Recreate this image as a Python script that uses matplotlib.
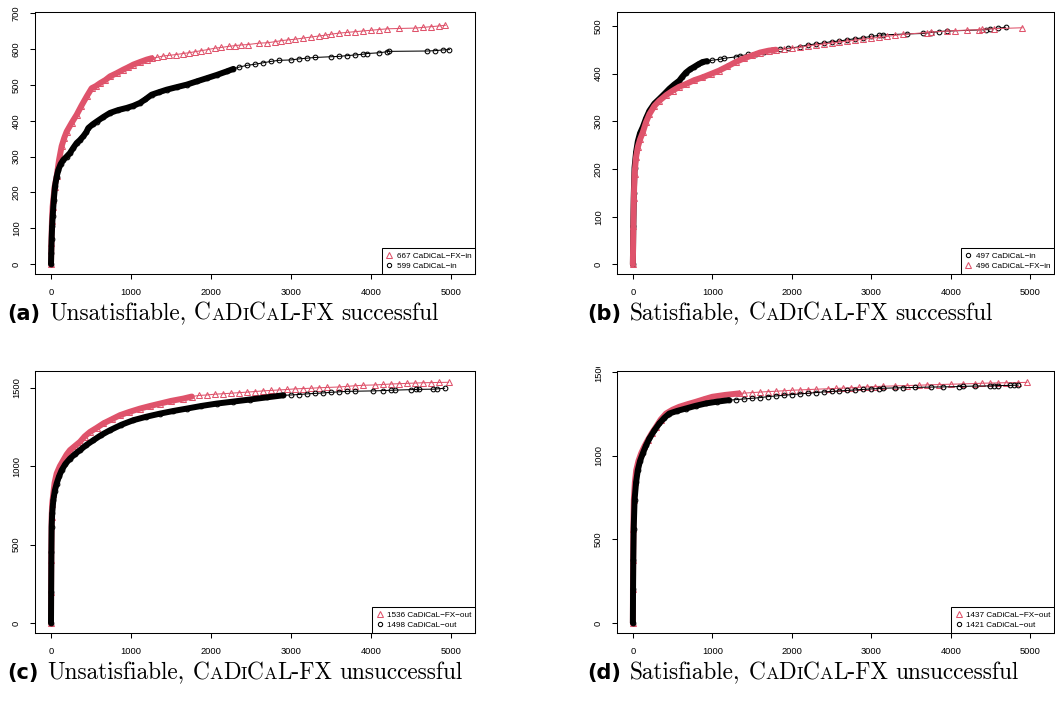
import numpy as np
import matplotlib.pyplot as plt
from matplotlib.lines import Line2D
from matplotlib.patches import Rectangle

plt.rcParams['font.family'] = ['Liberation Sans', 'DejaVu Sans']

RED = '#DF536B'

# (a) unsat, FX successful  -- time (s) vs. number of solved instances
a_fx_t = [0, 5, 12, 20, 29, 45, 71, 100, 133, 165, 196, 260, 321, 380, 446, 508, 560, 612, 680, 737,
          820, 904, 960, 1029, 1110, 1196, 1260, 1320, 1400, 1480, 1560, 1650, 1720, 1800, 1880, 1960,
          2050, 2130, 2220, 2300, 2380, 2460, 2600, 2700, 2800, 2880, 2960, 3050, 3150, 3250, 3350,
          3420, 3500, 3600, 3700, 3800, 3900, 4000, 4100, 4200, 4350, 4550, 4650, 4750, 4850, 4930]
a_fx_n = [0, 60, 120, 160, 180, 215, 245, 290, 329, 352, 370, 395, 417, 442, 468, 491, 497, 505, 514, 524,
          533, 543, 549, 557, 564, 571, 575, 577, 581, 583, 585, 588, 590, 593, 596, 599,
          603, 605, 608, 610, 612, 613, 617, 618, 621, 624, 626, 628, 631, 634, 637,
          639, 642, 645, 647, 649, 651, 653, 655, 657, 658, 659, 661, 663, 665, 667]
a_base_t = [0, 3, 8, 14, 21, 35, 50, 70, 92, 120, 154, 195, 237, 280, 321, 360, 404, 440, 467, 520,
            571, 650, 737, 840, 946, 1030, 1112, 1180, 1258, 1350, 1446, 1570, 1696, 1820, 1946, 2070,
            2196, 2280, 2350, 2450, 2550, 2650, 2750, 2850, 3000, 3100, 3200, 3300, 3500, 3600, 3700,
            3800, 3900, 3950, 4100, 4200, 4220, 4700, 4800, 4900, 4980]
a_base_n = [0, 30, 70, 105, 133, 180, 217, 243, 263, 279, 291, 300, 310, 325, 338, 346, 357, 368, 380, 390,
            398, 410, 422, 430, 436, 442, 450, 460, 473, 480, 487, 494, 501, 510, 519, 528,
            538, 545, 550, 555, 558, 562, 566, 569, 570, 573, 575, 577, 579, 580, 582,
            584, 586, 588, 590, 593, 594, 595, 596, 598, 599]

# (b) sat, FX successful
b_base_t = [0, 5, 12, 21, 40, 62, 90, 125, 165, 208, 270, 333, 400, 458, 520, 583, 620, 667, 720, 771,
            820, 875, 930, 1000, 1100, 1150, 1300, 1350, 1450, 1550, 1650, 1750, 1850, 1950, 2100,
            2200, 2300, 2400, 2500, 2600, 2700, 2800, 2900, 3000, 3100, 3150, 3450, 3650, 3750,
            3850, 3950, 4450, 4500, 4600, 4690]
b_base_n = [0, 80, 150, 203, 235, 258, 275, 288, 306, 322, 337, 347, 358, 368, 377, 385, 393, 402, 409, 414,
            419, 424, 426, 428, 430, 432, 435, 437, 440, 442, 446, 450, 451, 453, 456,
            460, 462, 464, 467, 468, 471, 473, 475, 478, 480, 481, 483, 484, 486,
            488, 489, 492, 494, 495, 497]
b_fx_t = [0, 5, 12, 21, 40, 62, 90, 125, 165, 208, 270, 333, 420, 500, 580, 667, 770, 875, 980, 1083,
          1190, 1292, 1400, 1500, 1600, 1708, 1800, 1900, 2000, 2100, 2200, 2300, 2400, 2500, 2600,
          2700, 2800, 2900, 3000, 3100, 3200, 3300, 3400, 3700, 3750, 3950, 4050, 4200, 4350, 4400,
          4550, 4900]
b_fx_n = [0, 80, 140, 190, 225, 246, 262, 277, 298, 315, 332, 343, 355, 364, 372, 378, 386, 392, 399, 406,
          415, 424, 432, 438, 444, 448, 450, 451, 453, 455, 458, 460, 462, 464, 466,
          468, 470, 472, 474, 476, 478, 480, 482, 486, 487, 489, 490, 491, 492, 493,
          494, 496]

# (c) unsat, FX unsuccessful
c_fx_t = [0, 1, 3, 8, 15, 29, 45, 71, 110, 154, 195, 237, 300, 362, 420, 487, 570, 654, 760, 862,
          980, 1112, 1240, 1362, 1500, 1654, 1760, 1850, 1950, 2050, 2150, 2250, 2350, 2450, 2550,
          2650, 2750, 2850, 2950, 3050, 3150, 3250, 3350, 3450, 3600, 3700, 3800, 3900, 4050, 4150,
          4250, 4350, 4450, 4550, 4650, 4750, 4850, 4970]
c_fx_n = [0, 200, 400, 678, 760, 826, 895, 954, 1000, 1039, 1075, 1103, 1130, 1156, 1190, 1219, 1245, 1273, 1300, 1326,
          1347, 1368, 1385, 1400, 1417, 1432, 1445, 1452, 1455, 1460, 1463, 1466, 1470, 1473, 1477,
          1481, 1484, 1487, 1490, 1494, 1496, 1498, 1501, 1503, 1506, 1510, 1514, 1517, 1519, 1522,
          1525, 1527, 1529, 1531, 1533, 1534, 1535, 1536]
c_base_t = [0, 2, 5, 8, 15, 29, 48, 71, 100, 133, 180, 237, 300, 362, 440, 529, 630, 737, 880, 1029,
            1190, 1362, 1530, 1696, 1880, 2071, 2280, 2487, 2700, 2904, 3000, 3100, 3200, 3300, 3400,
            3500, 3600, 3700, 3800, 4030, 4150, 4250, 4300, 4500, 4560, 4600, 4780, 4830, 4920]
c_base_n = [0, 200, 450, 614, 700, 784, 845, 890, 935, 975, 1015, 1049, 1078, 1103, 1135, 1166, 1200, 1230, 1265, 1294,
            1316, 1336, 1353, 1368, 1385, 1400, 1413, 1426, 1440, 1453, 1455, 1458, 1462, 1465, 1468,
            1472, 1475, 1478, 1479, 1481, 1483, 1485, 1486, 1489, 1490, 1491, 1492, 1494, 1498]

# (d) sat, FX unsuccessful
d_fx_t = [0, 1, 3, 6, 12, 25, 42, 70, 104, 145, 187, 240, 292, 350, 417, 500, 583, 690, 792, 900,
          1000, 1160, 1333, 1400, 1500, 1600, 1700, 1800, 1900, 2000, 2100, 2200, 2300, 2450, 2550,
          2650, 2750, 2850, 2950, 3050, 3150, 3300, 3450, 3600, 3700, 3850, 4000, 4150, 4300, 4400,
          4500, 4600, 4700, 4850, 4960]
d_fx_n = [0, 200, 376, 560, 734, 840, 913, 968, 1013, 1055, 1092, 1135, 1172, 1215, 1251, 1274, 1291, 1307, 1321, 1337,
          1351, 1362, 1371, 1373, 1376, 1379, 1382, 1384, 1387, 1390, 1392, 1394, 1396, 1399, 1401,
          1403, 1405, 1408, 1410, 1412, 1414, 1416, 1418, 1420, 1422, 1424, 1426, 1428, 1430, 1432,
          1433, 1434, 1435, 1436, 1437]
d_base_t = [0, 2, 5, 10, 21, 40, 62, 90, 125, 165, 208, 270, 333, 395, 458, 560, 667, 790, 917, 1060,
            1208, 1300, 1400, 1500, 1600, 1700, 1800, 1900, 2000, 2100, 2200, 2300, 2400, 2500, 2600,
            2700, 2800, 2900, 3000, 3100, 3150, 3300, 3400, 3550, 3750, 3900, 4100, 4150, 4300, 4500,
            4550, 4600, 4750, 4800, 4850]
d_base_n = [0, 200, 376, 560, 734, 840, 913, 968, 1013, 1060, 1102, 1150, 1192, 1225, 1251, 1267, 1281, 1297, 1311, 1322,
            1331, 1334, 1338, 1342, 1346, 1352, 1356, 1360, 1364, 1368, 1372, 1376, 1380, 1383, 1386,
            1389, 1392, 1395, 1398, 1400, 1402, 1404, 1405, 1407, 1409, 1410, 1412, 1413, 1415, 1416,
            1417, 1418, 1419, 1420, 1421]

W, H = 1055, 704
fig = plt.figure(figsize=(W / 100, H / 100), dpi=100)


def series(t, n, label, red, band_end):
    return dict(t=np.array(t), n=np.array(n), label=label, red=red, band_end=band_end)


# series listed in legend order (= plotting order)
panels = [
    dict(box=(35, 12, 440, 262), ylim=(-28, 704), yticks=range(0, 701, 100),
         series=[series(a_fx_t, a_fx_n, '667 CaDiCaL\u2212FX\u2212in', True, 1300),
                 series(a_base_t, a_base_n, '599 CaDiCaL\u2212in', False, 2300)]),
    dict(box=(617, 12, 437, 262), ylim=(-20, 529), yticks=range(0, 501, 100),
         series=[series(b_base_t, b_base_n, '497 CaDiCaL\u2212in', False, 950),
                 series(b_fx_t, b_fx_n, '496 CaDiCaL\u2212FX\u2212in', True, 1800)]),
    dict(box=(35, 371, 440, 262), ylim=(-64, 1608), yticks=range(0, 1501, 500),
         series=[series(c_fx_t, c_fx_n, '1536 CaDiCaL\u2212FX\u2212out', True, 1800),
                 series(c_base_t, c_base_n, '1498 CaDiCaL\u2212out', False, 2950)]),
    dict(box=(617, 371, 437, 262), ylim=(-60, 1505), yticks=range(0, 1501, 500),
         series=[series(d_fx_t, d_fx_n, '1437 CaDiCaL\u2212FX\u2212out', True, 1350),
                 series(d_base_t, d_base_n, '1421 CaDiCaL\u2212out', False, 1250)]),
]

for p in panels:
    x0, y0, w, h = p['box']
    ax = fig.add_axes([x0 / W, 1 - (y0 + h) / H, w / W, h / H])
    handles = []
    for s in p['series']:
        col = RED if s['red'] else 'black'
        mk, ms = ('^', 4.3) if s['red'] else ('o', 3.4)
        dense = s['t'] <= s['band_end']
        # the early part is a solid band of overlapping markers
        ax.plot(s['t'][dense], s['n'][dense], color=col, lw=4.3,
                solid_capstyle='round', solid_joinstyle='round')
        ax.plot(s['t'], s['n'], color=col, lw=0.75, marker=mk, ms=ms,
                mfc='none', mec=col, mew=0.75)
        handles.append(Line2D([], [], ls='none', marker=mk, ms=ms - 0.3,
                              mfc='none', mec=col, mew=0.75))
    ax.set_xlim(-200, 5300)
    ax.set_ylim(*p['ylim'])
    ax.set_xticks(range(0, 5001, 1000))
    ax.set_yticks(list(p['yticks']))
    for sp in ax.spines.values():
        sp.set_linewidth(0.75)
    ax.tick_params(direction='out', length=3.6, width=0.75, labelsize=6.7, pad=6.5)
    ax.tick_params(axis='y', labelrotation=90)
    for lab in ax.get_yticklabels():
        lab.set_va('center')
    leg = ax.legend(handles, [s['label'] for s in p['series']], loc='lower right',
                    borderaxespad=0, fontsize=5.9, fancybox=False, framealpha=1,
                    edgecolor='black', handlelength=1.0, handletextpad=0.4,
                    borderpad=0.45, labelspacing=0.35)
    leg.get_frame().set_linewidth(0.75)

# the subfigure (d) is trimmed at the top, cutting its "1500" label
fig.patches.append(Rectangle((575 / W, 1 - 367 / H), 40 / W, 15 / H, transform=fig.transFigure,
                             facecolor='white', edgecolor='none', zorder=10))

# captions with fake small caps for CaDiCaL
renderer = fig.canvas.get_renderer()
big, small = 16.8, 13.0
captions = [
    (7, 320, '(a)', 'Unsatisfiable,', 'successful'),
    (587, 320, '(b)', 'Satisfiable,', 'successful'),
    (7, 679, '(c)', 'Unsatisfiable,', 'unsuccessful'),
    (587, 679, '(d)', 'Satisfiable,', 'unsuccessful'),
]
serif = ['cmr10', 'DejaVu Serif']
for x, y, tag, first, last in captions:
    t = fig.text(x / W, 1 - y / H, tag, fontsize=15, fontweight='bold',
                 family=['DejaVu Sans'], va='baseline')
    cur = t.get_window_extent(renderer).x1 + 9
    pieces = [(first, big, 8), ('C', big, 0), ('A', small, 0), ('D', big, 0), ('I', small, 0),
              ('C', big, 0), ('A', small, 0), ('L-FX', big, 7), (last, big, 0)]
    for txt, size, gap in pieces:
        tt = fig.text(cur / W, 1 - y / H, txt, fontsize=size, family=serif, va='baseline')
        cur = tt.get_window_extent(renderer).x1 + gap

fig.savefig('out.png', dpi=100)
